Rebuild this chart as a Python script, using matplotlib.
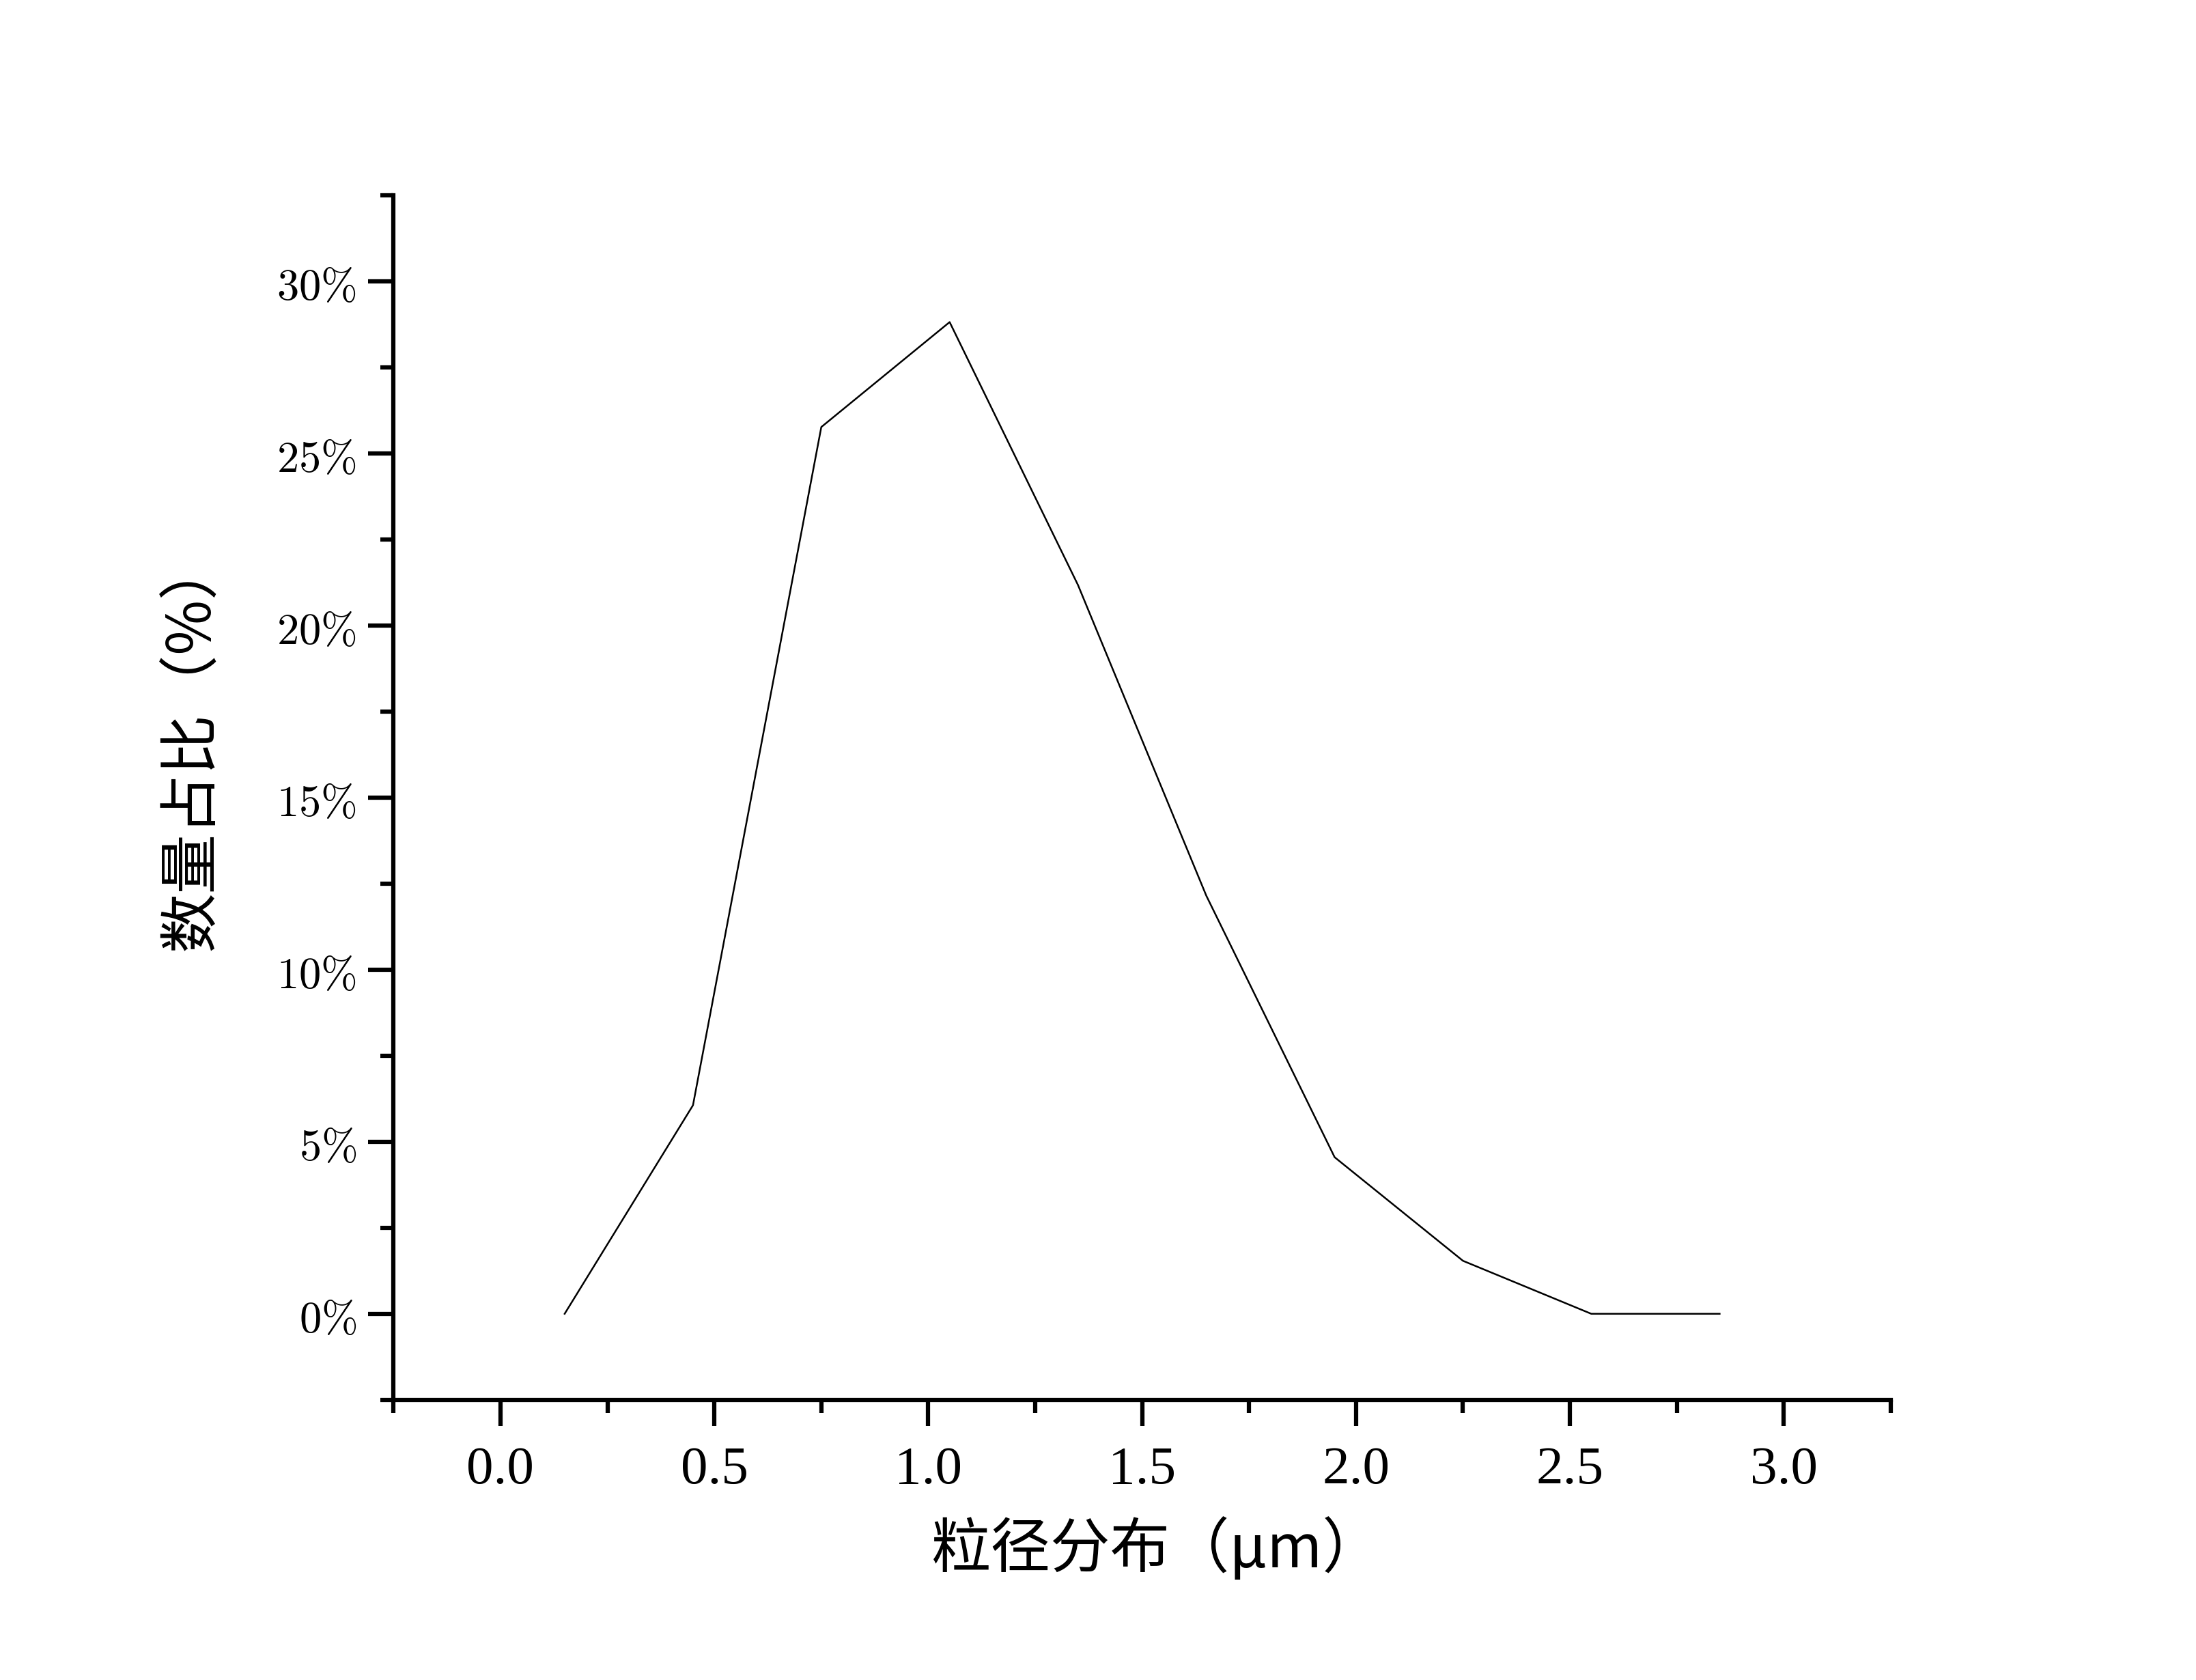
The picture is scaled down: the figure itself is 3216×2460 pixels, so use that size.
import numpy as np
import matplotlib
matplotlib.use("Agg")
import matplotlib.pyplot as plt
from matplotlib.ticker import MultipleLocator, FuncFormatter

plt.rcParams['font.family'] = ['Noto Sans CJK SC', 'DejaVu Sans']
plt.rcParams['mathtext.fontset'] = 'cm'

# 数据：粒径 (μm) 与数量占比 (%)
size_um = [0.15, 0.45, 0.75, 1.05, 1.35, 1.65, 1.95, 2.25, 2.55, 2.85]
ratio_pct = [0.0, 6.06, 25.77, 28.82, 21.18, 12.15, 4.55, 1.54, 0.0, 0.0]

x_ticks = [0.0, 0.5, 1.0, 1.5, 2.0, 2.5, 3.0]
y_ticks = [0, 5, 10, 15, 20, 25, 30]

fig = plt.figure(figsize=(10.72, 8.2033), dpi=300)
ax = fig.add_axes([0.1792, 0.1667, 0.861 - 0.1792, 0.8833 - 0.1667])

ax.plot(size_um, ratio_pct, color='black', linewidth=0.6)

ax.set_xlim(-0.25, 3.25)
ax.set_ylim(-2.5, 32.5)
ax.set_xticks(x_ticks)
ax.set_yticks(y_ticks)
ax.xaxis.set_minor_locator(MultipleLocator(0.25))
ax.yaxis.set_minor_locator(MultipleLocator(2.5))

ax.xaxis.set_major_formatter(FuncFormatter(lambda v, p: f"{v:.1f}"))
ax.yaxis.set_major_formatter(FuncFormatter(lambda v, p: r"$%d\%%$" % round(v)))

for s in ['top', 'right']:
    ax.spines[s].set_visible(False)
for s in ['left', 'bottom']:
    ax.spines[s].set_linewidth(1.5)

ax.tick_params(which='major', direction='out', length=9, width=1.5)
ax.tick_params(which='minor', direction='out', length=4.5, width=1.5)
ax.tick_params(axis='y', which='major', labelsize=15.5, pad=4)
ax.tick_params(axis='x', which='major', labelsize=19, pad=7)
for lab in ax.get_xticklabels():
    lab.set_fontfamily(['Liberation Serif', 'DejaVu Serif'])

ax.set_xlabel("粒径分布（μm）", fontsize=21)
ax.set_ylabel("数量占比（%）", fontsize=21)
ax.xaxis.set_label_coords(0.51, -0.097)
ax.yaxis.set_label_coords(-0.114, 0.545)

fig.savefig("out.png", dpi=300)
